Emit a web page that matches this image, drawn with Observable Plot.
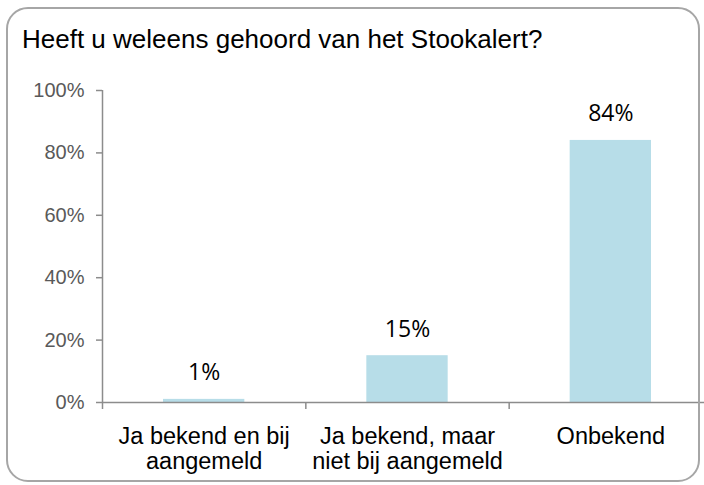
<!DOCTYPE html>
<html>
<head>
<meta charset="utf-8">
<script src="https://cdn.jsdelivr.net/npm/d3@7"></script>
<script src="https://cdn.jsdelivr.net/npm/@observablehq/plot@0.6"></script>
<style>
  html, body { margin: 0; padding: 0; background: #fff; }
  #wrap { position: relative; width: 704px; height: 485px; overflow: hidden; background: #fff; }
  #frame { position: absolute; left: 6px; top: 7px; width: 690px; height: 471px; border: 2px solid #a6a6a6; border-radius: 22px; box-sizing: content-box; pointer-events: none; }
  #title { position: absolute; left: 22px; top: 26px; font-family: "Liberation Sans", Arial, sans-serif; font-size: 26px; line-height: 1; color: #000; white-space: nowrap; }
  #chart { position: absolute; left: 0; top: 0; }
</style>
</head>
<body>
<div id="wrap">
  <div id="chart"></div>
  <div id="frame"></div>
  <div id="title">Heeft u weleens gehoord van het Stookalert?</div>
</div>
<script>
const categories = ["Ja bekend en bij\naangemeld", "Ja bekend, maar\nniet bij aangemeld", "Onbekend"];
const values = [0.01, 0.15, 0.84];
const valueLabels = ["1%", "15%", "84%"];
const yTicks = [0, 0.2, 0.4, 0.6, 0.8, 1.0];

const data = categories.map((c, i) => ({ i, category: c, value: values[i], label: valueLabels[i] }));
const axisColor = "#8c8c8c";

const plot = Plot.plot({
  width: 704,
  height: 485,
  marginTop: 90,
  marginBottom: 83,
  marginLeft: 102,
  marginRight: 0,
  style: { background: "transparent", overflow: "visible" },
  x: { type: "linear", domain: [0, 3], range: [102, 712] },
  y: { domain: [0, 1] },
  marks: [
    Plot.rectY(data, { x1: d => d.i + 0.3, x2: d => d.i + 0.7, y: "value", fill: "#b7dde8" }),
    Plot.ruleX([0], { y1: 0, y2: 1, stroke: axisColor, strokeWidth: 1.5 }),
    Plot.ruleY([0], { x1: 0, x2: 3, stroke: axisColor, strokeWidth: 1.5 }),
    Plot.axisY({ ticks: yTicks, label: null, tickFormat: d3.format(".0%"), tickSize: 6, tickPadding: 12, fontSize: 20, fill: "#595959", stroke: axisColor, strokeWidth: 1.5, fontFamily: "Liberation Sans, Arial, sans-serif" }),
    Plot.axisX({ ticks: [0, 1, 2, 3], label: null, tickSize: 7, tickFormat: () => "", stroke: axisColor, strokeWidth: 1.5 }),
    Plot.text(data, { x: d => d.i + 0.5, y: "value", text: "label", dy: -19, lineAnchor: "bottom", fontSize: 23, fontFamily: "Open Sans, sans-serif", fill: "#000" }),
    Plot.text(data, { x: d => d.i + 0.5, y: 0, text: "category", dy: 23, lineAnchor: "top", lineHeight: 1.08, fontSize: 23.5, fontFamily: "Liberation Sans, Arial, sans-serif", fill: "#000" })
  ]
});
document.getElementById("chart").appendChild(plot);
</script>
</body>
</html>
